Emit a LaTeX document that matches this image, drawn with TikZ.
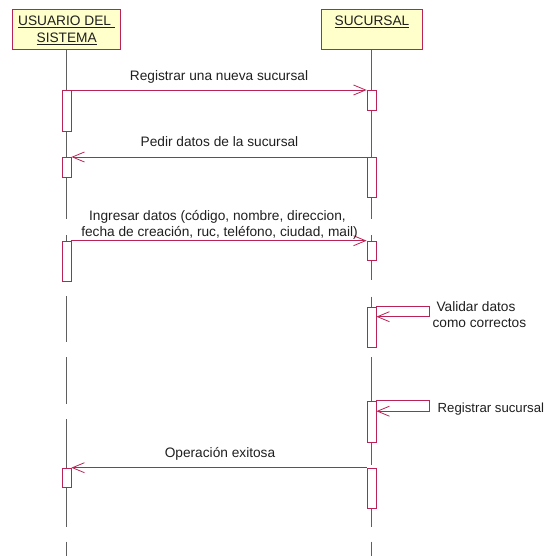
\documentclass[tikz,border=0pt]{standalone}
\usepackage{fontspec}
\setmainfont{Liberation Sans}
\usetikzlibrary{arrows.meta}
\definecolor{rose}{RGB}{185,35,85}
\definecolor{lifegray}{RGB}{95,95,95}
\definecolor{paleyellow}{RGB}{255,255,204}
\tikzset{
  actor/.style={draw=rose, fill=paleyellow, line width=0.8pt, inner sep=0pt, anchor=north west},
  actbar/.style={draw=rose, fill=white, line width=0.8pt, minimum width=9pt, inner sep=0pt, anchor=north},
  msg/.style={draw=rose, line width=0.8pt, -{Straight Barb[length=12pt,width=10pt]}},
  life/.style={draw=lifegray, line width=0.9pt},
  lbl/.style={font=\fontsize{13.7}{16}\selectfont, anchor=base, inner sep=0pt, text=black!88},
}
\begin{document}
\begin{tikzpicture}[x=1pt,y=-1pt]
\useasboundingbox (0,0) rectangle (546,556);
% actors
\node[actor, minimum width=108pt, minimum height=40pt] (usr) at (12,9) {};
\node[actor, minimum width=101pt, minimum height=40pt] (suc) at (320.7,9) {};
\node[lbl] (usrA) at (66.5,26) {\underline{USUARIO DEL\ }};
\node[lbl] (usrB) at (66.7,43) {\underline{SISTEMA}};
\node[lbl] (sucA) at (372,26) {\underline{SUCURSAL}};
% activation bars
\path
  node[actbar, minimum height=41pt]   (lb1) at (66.5,90) {}
  node[actbar, minimum height=20pt]   (lb2) at (66.5,157) {}
  node[actbar, minimum height=40.3pt] (lb3) at (66.5,240.7) {}
  node[actbar, minimum height=19.6pt] (lb4) at (66.5,467.7) {}
  node[actbar, minimum height=20pt]   (rb1) at (371.5,90) {}
  node[actbar, minimum height=40.3pt] (rb2) at (371.5,157) {}
  node[actbar, minimum height=19.3pt] (rb3) at (371.5,240.7) {}
  node[actbar, minimum height=40.3pt] (rb4) at (371.5,306.7) {}
  node[actbar, minimum height=41pt]   (rb5) at (371.5,400.7) {}
  node[actbar, minimum height=40.6pt] (rb6) at (371.5,467.7) {};
% lifelines (broken segments between bars)
\draw[life] (lb1 |- usr.south) -- (lb1.north);
\draw[life] (lb1.south) -- (lb2.north);
\draw[life] (lb2.south) -- (66.5,219.3);
\draw[life] (66.5,235) -- (lb3.north);
\draw[life] (66.5,296) -- (66.5,342);
\draw[life] (66.5,357) -- (66.5,404);
\draw[life] (66.5,419) -- (lb4.north);
\draw[life] (lb4.south) -- (66.5,526.7);
\draw[life] (66.5,541.7) -- (66.5,556);
\draw[life] (rb1 |- suc.south) -- (rb1.north);
\draw[life] (rb1.south) -- (rb2.north);
\draw[life] (rb2.south) -- (371.5,219.3);
\draw[life] (371.5,235) -- (rb3.north);
\draw[life] (rb3.south) -- (371.5,280);
\draw[life] (371.5,296.7) -- (rb4.north);
\draw[life] (371.5,357) -- (rb5.north);
\draw[life] (rb5.south) -- (371.5,465);
\draw[life] (rb6.south) -- (371.5,526.7);
\draw[life] (371.5,541.7) -- (371.5,556);
% messages
\draw[msg] (lb1.north east) -- (rb1.north west);
\node[lbl] (m1) at (219,80.7) {Registrar una nueva sucursal};
\draw[msg] (rb2.north west) -- (lb2.north east);
\node[lbl] (m2) at (219.5,146.7) {Pedir datos de la sucursal};
\draw[msg] (lb3.north east) -- (rb3.north west);
\node[lbl] (m3a) at (217.5,220) {Ingresar datos (código, nombre, direccion,};
\node[lbl] (m3b) at (219.5,236.5) {fecha de creación, ruc, teléfono, ciudad, mail)};
\draw[msg] (rb4.north east) -- ++(52.8,0) |- ([yshift=-10pt]rb4.north east);
\node[lbl] (m4a) at (476,311) {Validar datos};
\node[lbl] (m4b) at (479.4,327.5) {como correctos};
\draw[msg] (rb5.north east) -- ++(52.8,0) |- ([yshift=-10.5pt]rb5.north east);
\node[lbl, anchor=base west, font=\fontsize{13.2}{16}\selectfont] (m5) at (437.5,412) {Registrar sucursal};
\draw[msg] (rb6.north west) -- (lb4.north east);
\node[lbl] (m6) at (220,457.5) {Operación exitosa};
\end{tikzpicture}
\end{document}
